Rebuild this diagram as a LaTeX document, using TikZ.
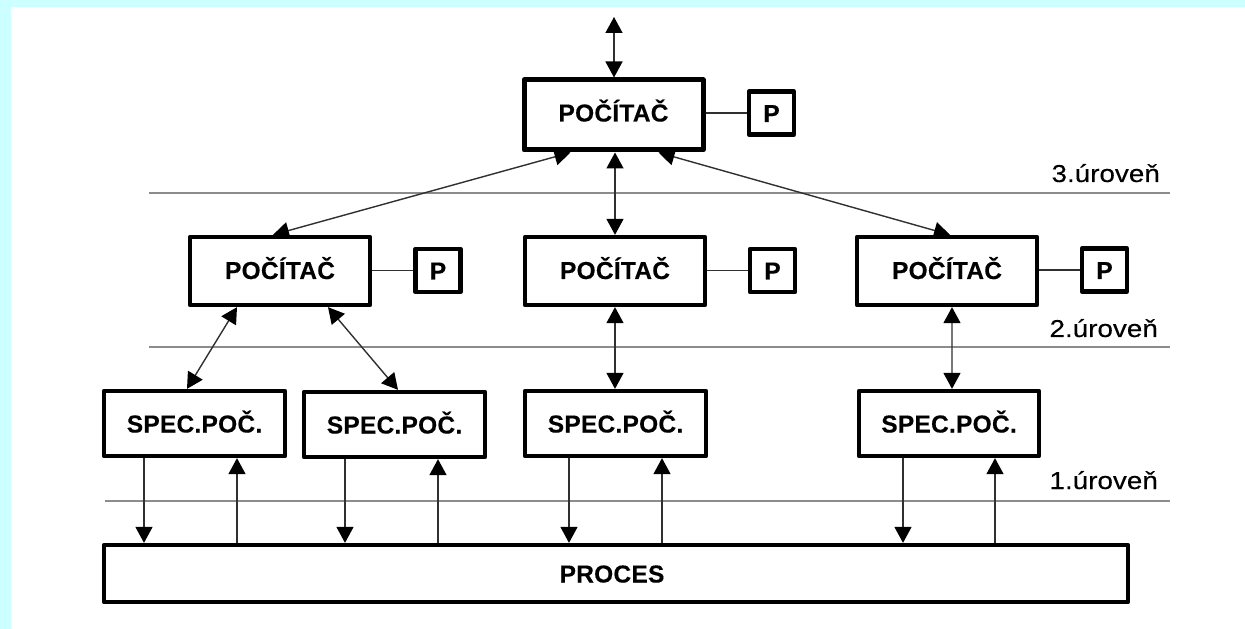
\documentclass[tikz,border=0pt]{standalone}
\usepackage{fontspec}
\setmainfont{Liberation Sans}
\newfontfamily\levelfont[FakeStretch=1.14,FakeBold=0.25]{Liberation Sans}
\newfontfamily\boxfont[FakeBold=0.3,LetterSpace=1]{Liberation Sans Bold}
\usetikzlibrary{arrows.meta,calc}
\definecolor{bgcyan}{HTML}{CCFFFF}
\definecolor{levelgrey}{HTML}{8C8C8C}
\definecolor{linkgrey}{HTML}{303030}
\tikzset{
  x=1bp,y=-1bp,
  boxbase/.style={draw=black,line width=4.3bp,line join=round,rectangle,inner sep=0pt,align=center,text height=18bp,text depth=0bp,font=\boxfont\fontsize{24.6}{28}\selectfont},
  pcbox/.style={boxbase,minimum width=180bp,minimum height=68bp,text depth=2bp},
  specbox/.style={boxbase,minimum width=181bp,minimum height=65bp},
  pbox/.style={boxbase,minimum width=45bp,minimum height=43bp},
  procbox/.style={boxbase,minimum width=1024bp,minimum height=57bp},
  levelline/.style={draw=levelgrey,line width=2bp},
  levellabel/.style={anchor=base east,inner sep=0pt,font=\levelfont\fontsize{24.5}{27}\selectfont},
  link/.style={draw=linkgrey,line width=1.4bp},
  twoway/.style={link,{Triangle[length=16bp,width=17bp,color=black]}-{Triangle[length=16bp,width=17bp,color=black]}},
  oneway/.style={link,-{Triangle[length=16bp,width=17bp,color=black]}},
}
\begin{document}
\begin{tikzpicture}
\useasboundingbox (0,0) rectangle (1245,629);
\fill[bgcyan] (0,0) rectangle (1245,629);
\fill[white] (11,7) rectangle (1245,629);

% level lines
\coordinate (l3a) at (149,193); \coordinate (l3b) at (1170,193);
\coordinate (l2a) at (149,347); \coordinate (l2b) at (1170,347);
\coordinate (l1a) at (105,501); \coordinate (l1b) at (1170,501);
\draw[levelline] (l3a) -- (l3b);
\draw[levelline] (l2a) -- (l2b);
\draw[levelline] (l1a) -- (l1b);
\node[levellabel] (t3) at (1160,182) {3.úroveň};
\node[levellabel] (t2) at (1158,337) {2.úroveň};
\node[levellabel] (t1) at (1158,489) {1.úroveň};

% boxes
\node[pcbox,line width=5bp,minimum width=179bp,minimum height=70bp,text depth=5bp] (top) at (613.5,115) {POČÍTAČ};
\node[pbox] (ptop) at (771.5,113) {P};
\node[pcbox] (c1) at (280,271) {POČÍTAČ};
\node[pbox] (p1) at (438,270.5) {P};
\node[pcbox] (c2) at (615,271) {POČÍTAČ};
\node[pbox] (p2) at (772.5,270.5) {P};
\node[pcbox] (c3) at (947,271) {POČÍTAČ};
\node[pbox] (p3) at (1104.5,270) {P};
\node[specbox] (s1) at (194.5,423.5) {SPEC.POČ.};
\node[specbox] (s2) at (394.5,424.5) {SPEC.POČ.};
\node[specbox] (s3) at (615.5,423.5) {SPEC.POČ.};
\node[specbox,minimum width=180bp] (s4) at (949,423.5) {SPEC.POČ.};
\node[procbox] (proc) at (616,573.5) {\hspace*{-8bp}PROCES};

% P links
\draw[link] (top.east |- ptop.west) -- (ptop.west);
\draw[link] (c1.east |- p1.west) -- (p1.west);
\draw[link] (c2.east |- p2.west) -- (p2.west);
\draw[link] (c3.east |- p3.west) -- (p3.west);

% up link
\coordinate (ext) at (614,17);
\draw[twoway] (ext) -- (ext |- top.north);

% computers
\draw[twoway] ([xshift=-43bp]top.south) -- ([xshift=-7bp]c1.north);
\draw[twoway] ([xshift=1.5bp]top.south) -- (c2.north);
\draw[twoway] ([xshift=45bp]top.south) -- ([xshift=3bp]c3.north);

\draw[twoway] ([xshift=-43bp]c1.south) -- ([xshift=-7.5bp]s1.north);
\draw[twoway] ([xshift=48bp]c1.south) -- ([xshift=3.5bp]s2.north);
\draw[twoway] (c2.south) -- (c2.south |- s3.north);
\draw[twoway] ([xshift=5bp]c3.south) -- ([xshift=3bp]s4.north);

% process links
\foreach \s/\dn/\up in {s1/-50.5/42.5, s2/-49.5/43.5, s3/-46.5/46.5, s4/-46/46}{
  \draw[oneway] ([xshift=\dn bp]\s.south) -- ([xshift=\dn bp]\s.south |- proc.north);
  \draw[oneway] ([xshift=\up bp]\s.south |- proc.north) -- ([xshift=\up bp]\s.south);
}
\end{tikzpicture}
\end{document}
